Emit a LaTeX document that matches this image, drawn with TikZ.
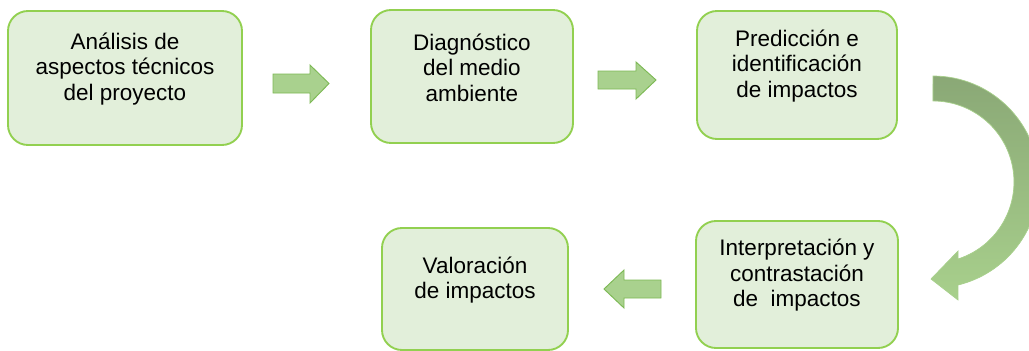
\documentclass[tikz,border=0pt]{standalone}
\usepackage{fontspec}
\setmainfont{Liberation Sans}
\definecolor{boxfill}{RGB}{226,239,218}
\definecolor{boxline}{RGB}{146,208,80}
\definecolor{arrowfill}{RGB}{169,209,142}
\definecolor{arrowline}{RGB}{125,185,85}
\definecolor{curvetop}{RGB}{138,168,118}
\definecolor{curvebot}{RGB}{168,208,140}

\begin{document}
\begin{tikzpicture}[x=0.03cm,y=0.03cm]
        \def\txtup{0.27cm}
        \tikzstyle{stage}=[rectangle, rounded corners=0.6cm, draw=boxline, fill=boxfill, line width=1.6pt]
        \tikzstyle{stagetext}=[align=center, inner sep=0pt, font=\fontsize{19.2}{21.8}\selectfont]
        \tikzstyle{blockarrow}=[fill=arrowfill, draw=arrowline, line width=0.8pt]

        \useasboundingbox (0,0) rectangle (1029,350);

        \node[stage, minimum width=7.02cm, minimum height=4.02cm] (analisis) at (125,272) {};
        \node[stage, minimum width=6.06cm, minimum height=3.99cm] (diagnostico) at (472,273.5) {};
        \node[stage, minimum width=6.0cm, minimum height=3.84cm] (prediccion) at (797,275) {};
        \node[stage, minimum width=6.06cm, minimum height=3.81cm] (interpretacion) at (797,65.5) {};
        \node[stage, minimum width=5.58cm, minimum height=3.66cm] (valoracion) at (475,61) {};

        \node[stagetext] (analisis-t) at ([yshift=\txtup]analisis.center) {Análisis de\\aspectos técnicos\\del proyecto};
        \node[stagetext] (diagnostico-t) at ([yshift=\txtup]diagnostico.center) {Diagnóstico\\del medio\\ambiente};
        \node[stagetext] (prediccion-t) at ([yshift=\txtup]prediccion.center) {Predicción e\\identificación\\de impactos};
        \node[stagetext] (interpretacion-t) at ([yshift=\txtup]interpretacion.center) {Interpretación y\\contrastación\\de\ \ impactos};
        \node[stagetext] (valoracion-t) at ([yshift=\txtup]valoracion.center) {Valoración\\de impactos};

        % straight arrows
        \filldraw[blockarrow] (273,257) -- (273,276) -- (310,276) -- (310,285) -- (329,266.5) -- (310,247) -- (310,257) -- cycle;
        \filldraw[blockarrow] (598,261) -- (598,279) -- (636,279) -- (636,288) -- (656,270) -- (636,251) -- (636,261) -- cycle;
        \filldraw[blockarrow] (661,52) -- (661,70) -- (624,70) -- (624,80) -- (604,61) -- (624,42) -- (624,52) -- cycle;

        % curved arrow
        \path[top color=curvetop, bottom color=curvebot, draw=curvebot, line width=0.6pt]
            (933,274) arc[start angle=90, end angle=-76.4, radius=106] -- (958,50) -- (931,71) -- (958,99) -- (958,91)
            arc[start angle=-72, end angle=90, radius=81] -- cycle;
    \end{tikzpicture}
\end{document}
